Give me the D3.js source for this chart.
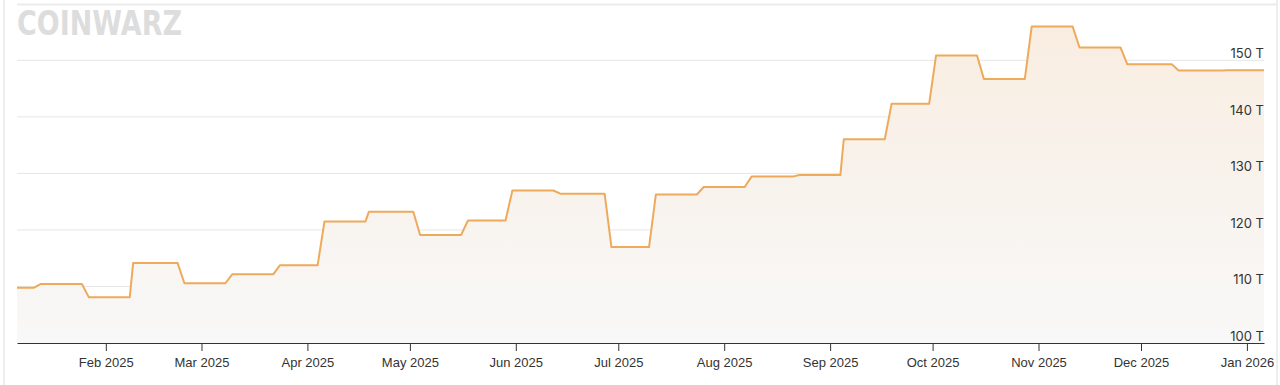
<!DOCTYPE html>
<html>
<head>
<meta charset="utf-8">
<script src="https://cdn.jsdelivr.net/npm/d3@7"></script>
<style>
  html, body { margin: 0; padding: 0; background: #fff; }
  svg { display: block; font-family: Inter, "Liberation Sans", Arial, sans-serif; }
  .x-axis text { font-size: 13px; fill: #333; }
  .x-axis line, .x-axis path { stroke: #333; }
  .y-label { font-size: 13px; fill: #333; text-anchor: end; }
</style>
</head>
<body>
<div class="Chart"></div>
<script>
// network difficulty, one entry per plateau between adjustments
const plateauStart = ['2025-01-06','2025-01-13','2025-01-27','2025-02-09','2025-02-24','2025-03-10','2025-03-24',
  '2025-04-06','2025-04-19','2025-05-04','2025-05-18','2025-05-31','2025-06-14','2025-06-29','2025-07-12',
  '2025-07-26','2025-08-09','2025-08-23','2025-09-05','2025-09-19','2025-10-02','2025-10-16','2025-10-30',
  '2025-11-13','2025-11-27','2025-12-12','2025-12-26']
const plateauEnd = ['2025-01-11','2025-01-25','2025-02-08','2025-02-22','2025-03-08','2025-03-22','2025-04-04',
  '2025-04-18','2025-05-02','2025-05-16','2025-05-29','2025-06-12','2025-06-27','2025-07-10','2025-07-24',
  '2025-08-07','2025-08-21','2025-09-04','2025-09-17','2025-09-30','2025-10-14','2025-10-28','2025-11-11',
  '2025-11-25','2025-12-10','2025-12-25','2026-01-06']
const difficulty = [109.78,110.45,108.11,114.17,110.57,112.15,113.76,121.51,123.23,119.12,121.66,126.98,126.41,
  116.96,126.27,127.6,129.43,129.7,136.04,142.34,150.84,146.72,155.97,152.27,149.3,148.2,148.26]
const yTicks = [100,110,120,130,140,150]

const width = 1280, height = 385
const margin = ({top: 3.8, right: 16, bottom: 42, left: 17})

const parse = d3.timeParse('%Y-%m-%d')
let points = []
difficulty.forEach((v,i)=>{
  points.push({date: parse(plateauStart[i]), value: v})
  points.push({date: parse(plateauEnd[i]), value: v})
})

let svg = d3.select('.Chart').append('svg')
  .attr('width', width)
  .attr('height', height)

let xScale = d3.scaleTime()
  .domain(d3.extent(points, d=>d.date))
  .range([margin.left, width-margin.right])

let yScale = d3.scaleLinear()
  .domain([100,160])
  .range([height-margin.bottom, margin.top])

// card borders
svg.append('line').attr('x1',4).attr('x2',4).attr('y1',0).attr('y2',height)
  .attr('stroke','#eeeeee').attr('stroke-width',2)
svg.append('line').attr('x1',1277).attr('x2',1277).attr('y1',0).attr('y2',height)
  .attr('stroke','#eeeeee').attr('stroke-width',2)
svg.append('line').attr('x1',margin.left).attr('x2',1278).attr('y1',4.5).attr('y2',4.5)
  .attr('stroke','#ebebeb').attr('stroke-width',2)

// logo watermark
svg.append('text')
  .attr('x',17).attr('y',35)
  .attr('textLength',165).attr('lengthAdjust','spacingAndGlyphs')
  .style('font-family','"DejaVu Sans", sans-serif')
  .style('font-weight','bold')
  .style('font-size','33px')
  .style('fill','#dddddd')
  .text('COINWARZ')

let defs = svg.append('defs')
let grad = defs.append('linearGradient')
  .attr('id','areaFill')
  .attr('gradientUnits','userSpaceOnUse')
  .attr('x1',0).attr('x2',0)
  .attr('y1',yScale(156)).attr('y2',yScale(100))
grad.append('stop').attr('offset','0%').attr('stop-color','#f9ede1')
grad.append('stop').attr('offset','100%').attr('stop-color','#f8f8f8')

svg.append('g')
  .selectAll('line')
  .data(yTicks.filter(d=>d>100))
  .join('line')
  .attr('x1',margin.left)
  .attr('x2',width-margin.right)
  .attr('y1',d=>yScale(d))
  .attr('y2',d=>yScale(d))
  .attr('stroke','#e6e6e6')
  .attr('stroke-width',1)

let area = d3.area()
  .x(d=>xScale(d.date))
  .y0(yScale(100))
  .y1(d=>yScale(d.value))

let line = d3.line()
  .x(d=>xScale(d.date))
  .y(d=>yScale(d.value))

svg.append('path')
  .datum(points)
  .attr('d',area)
  .attr('fill','url(#areaFill)')

svg.append('path')
  .datum(points)
  .attr('d',line)
  .attr('fill','none')
  .attr('stroke','#eeaa5b')
  .attr('stroke-width',2)
  .attr('stroke-linejoin','round')

svg.append('g')
  .selectAll('text')
  .data(yTicks)
  .join('text')
  .attr('class','y-label')
  .attr('x',width-margin.right)
  .attr('y',d=>yScale(d)-2)
  .text(d=>d+' T')

let xAxis = d3.axisBottom(xScale)
  .ticks(d3.timeMonth.every(1))
  .tickFormat(d3.timeFormat('%b %Y'))
  .tickSize(8)
  .tickSizeOuter(0)
  .tickPadding(7)

svg.append('g')
  .attr('class','x-axis')
  .attr('transform',`translate(0,${yScale(100)})`)
  .call(xAxis)
  .call(g=>g.select('.domain').attr('stroke-width',1.2))
</script>
</body>
</html>
